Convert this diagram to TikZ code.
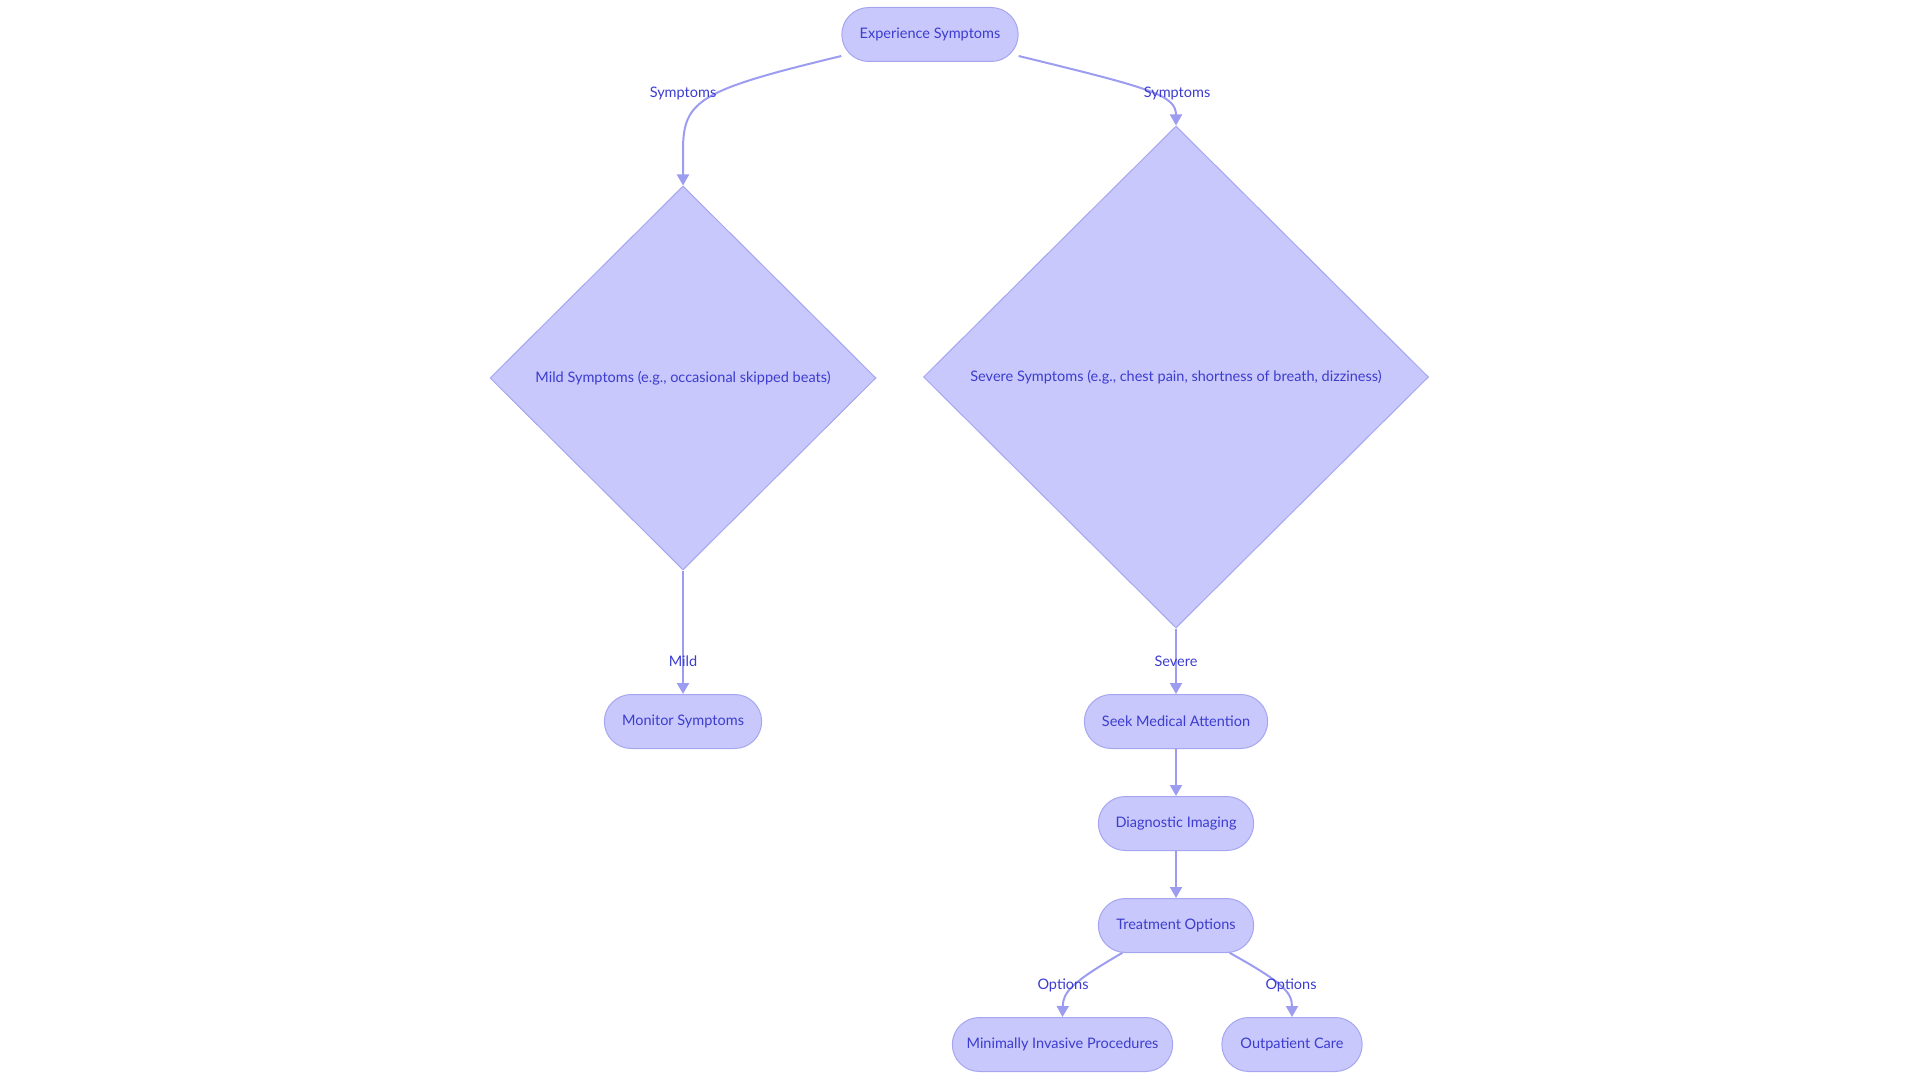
\documentclass[tikz,border=0pt]{standalone}
\usepackage{fontspec}
\setmainfont{Lato}
\usetikzlibrary{shapes.geometric,shapes.misc,arrows.meta}
\definecolor{boxfill}{HTML}{C8C8FC}
\definecolor{boxline}{HTML}{A6A6F0}
\definecolor{boxtext}{HTML}{3C3CCF}
\definecolor{edgeline}{HTML}{9C9CF0}
\tikzset{
  stadium/.style={rounded rectangle, draw=boxline, fill=boxfill, line width=1pt,
    text=boxtext, font=\fontsize{14.5}{16}\selectfont, minimum height=54pt},
  choice/.style={diamond, draw=boxline, fill=boxfill, line width=1pt,
    text=boxtext, font=\fontsize{14.5}{16}\selectfont, inner sep=0pt},
  flow/.style={draw=edgeline, line width=2pt, -{Triangle[length=11pt,width=12pt]}},
  tag/.style={text=boxtext, font=\fontsize{14.5}{16}\selectfont, inner sep=1pt}
}
\begin{document}
\begin{tikzpicture}[x=1pt,y=-1pt]
  \useasboundingbox (0,0) rectangle (1920,1083);
  % boxes
  \node[stadium, minimum width=183pt] (exp) at (930,34.5) {Experience Symptoms};
  \node[choice, minimum width=386pt, minimum height=384pt] (mild) at (683,378) {Mild Symptoms (e.g., occasional skipped beats)};
  \node[choice, minimum width=505pt, minimum height=502pt] (severe) at (1176,377) {Severe Symptoms (e.g., chest pain, shortness of breath, dizziness)};
  \node[stadium, minimum width=164pt] (monitor) at (683,721.5) {Monitor Symptoms};
  \node[stadium, minimum width=190pt] (seek) at (1176,721.5) {Seek Medical Attention};
  \node[stadium, minimum width=162pt] (imaging) at (1176,823.5) {Diagnostic Imaging};
  \node[stadium, minimum width=162pt] (treat) at (1176,925.5) {Treatment Options};
  \node[stadium, minimum width=227pt] (invasive) at (1062.5,1044.5) {Minimally Invasive Procedures};
  \node[stadium, minimum width=147pt] (outpatient) at (1292,1044.5) {Outpatient Care};
  \coordinate (expsw) at (exp.west |- exp.south);
  \coordinate (expse) at (exp.east |- exp.south);
  % connectors
  \draw[flow] ([yshift=6pt]expsw) .. controls (700,90) and (683,100) .. (683,150) -- (mild.north);
  \draw[flow] ([yshift=6pt]expse) .. controls (1150,88) and (1176,95) .. (severe.north);
  \draw[flow] (mild.south) -- (monitor.north);
  \draw[flow] (severe.south) -- (seek.north);
  \draw[flow] (seek.south) -- (imaging.north);
  \draw[flow] (imaging.south) -- (treat.north);
  \draw[flow] (treat.207) .. controls (1072,982) and (1063,992) .. (invasive.north);
  \draw[flow] (treat.333) .. controls (1282,982) and (1292,992) .. (outpatient.north);
  % edge labels
  \node[tag] (l1) at (683,93) {Symptoms};
  \node[tag] (l2) at (1177,93) {Symptoms};
  \node[tag] (l3) at (683,661) {Mild};
  \node[tag] (l4) at (1176,661) {Severe};
  \node[tag] (l5) at (1063,985) {Options};
  \node[tag] (l6) at (1291,985) {Options};
\end{tikzpicture}
\end{document}
